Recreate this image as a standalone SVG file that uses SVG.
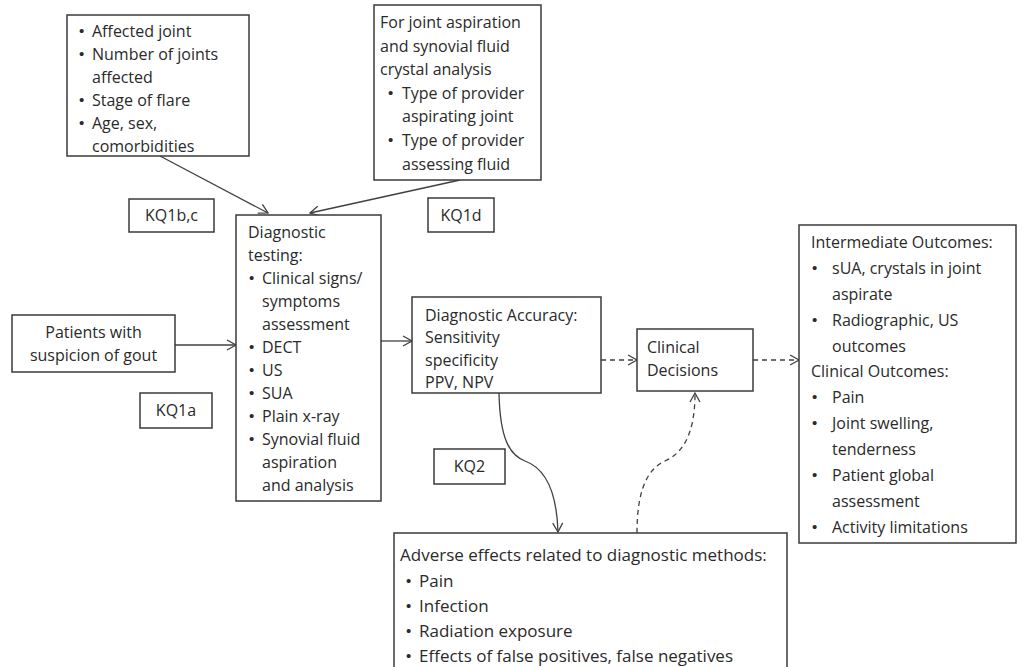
<svg xmlns="http://www.w3.org/2000/svg" width="1026" height="667" viewBox="0 0 1026 667">
<defs>
<marker id="arr" markerUnits="userSpaceOnUse" markerWidth="14" markerHeight="14" refX="10" refY="6" orient="auto">
<path d="M1,1 L10,6 L1,11" fill="none" stroke="#404040" stroke-width="1.3"/>
</marker>
<style>
.box{fill:#fff;stroke:#3a3a3a;stroke-width:1.5}
.t{font-family:"Open Sans","Liberation Sans",sans-serif;font-size:16px;fill:#2a2a2a}
.b{font-family:"Liberation Sans",sans-serif;font-size:15px}
.c{text-anchor:middle}
.ln{fill:none;stroke:#404040;stroke-width:1.3}
.ds{stroke-dasharray:5,4}
</style>
</defs>
<rect width="1026" height="667" fill="#fff"/>

<g id="connectors">
<path class="ln" d="M160,156 L268,213" marker-end="url(#arr)"/>
<path class="ln" d="M460,180 L310,213" marker-end="url(#arr)"/>
<path class="ln" d="M175,345 L236,345" marker-end="url(#arr)"/>
<path class="ln" d="M381,341 L412,341" marker-end="url(#arr)"/>
<path class="ln ds" d="M601,360 L637,360" marker-end="url(#arr)"/>
<path class="ln ds" d="M753,360 L799,360" marker-end="url(#arr)"/>
<path class="ln" d="M499,393 C500,440 510,455 525,461 C550,470 557,500 558,532" marker-end="url(#arr)"/>
<path class="ln ds" d="M637,533 C637,495 645,470 665,461 C690,450 695,420 695,393" marker-end="url(#arr)"/>
</g>

<g id="factors">
<rect class="box" x="67" y="15" width="182" height="141"/>
<g class="t">
<text class="b" x="79" y="36">•</text><text x="92" y="37">Affected joint</text>
<text class="b" x="79" y="59">•</text><text x="92" y="60">Number of joints</text>
<text x="92" y="83">affected</text>
<text class="b" x="79" y="105">•</text><text x="92" y="106">Stage of flare</text>
<text class="b" x="79" y="128">•</text><text x="92" y="129">Age, sex,</text>
<text x="92" y="152">comorbidities</text>
</g>
</g>

<g id="provider">
<rect class="box" x="374" y="5" width="167" height="175"/>
<g class="t">
<text x="380" y="28">For joint aspiration</text>
<text x="380" y="52">and synovial fluid</text>
<text x="380" y="75">crystal analysis</text>
<text class="b" x="388" y="98">•</text><text x="402" y="99">Type of provider</text>
<text x="402" y="122">aspirating joint</text>
<text class="b" x="388" y="145">•</text><text x="402" y="146">Type of provider</text>
<text x="402" y="170">assessing fluid</text>
</g>
</g>

<g id="kq1bc">
<rect class="box" x="129" y="199" width="85" height="33"/>
<text class="t c" x="171.5" y="221">KQ1b,c</text>
</g>

<g id="kq1d">
<rect class="box" x="428" y="198" width="66" height="34"/>
<text class="t c" x="461" y="221">KQ1d</text>
</g>

<g id="patients">
<rect class="box" x="12" y="315" width="163" height="57"/>
<text class="t c" x="93.5" y="338">Patients with</text>
<text class="t c" x="93.5" y="361">suspicion of gout</text>
</g>

<g id="kq1a">
<rect class="box" x="140" y="393" width="72" height="35"/>
<text class="t c" x="176" y="416">KQ1a</text>
</g>

<g id="testing">
<rect class="box" x="236" y="215" width="145" height="286"/>
<g class="t">
<text x="248" y="238">Diagnostic</text>
<text x="248" y="261">testing:</text>
<text class="b" x="249" y="283">•</text><text x="262" y="284">Clinical signs/</text>
<text x="262" y="307">symptoms</text>
<text x="262" y="330">assessment</text>
<text class="b" x="249" y="352">•</text><text x="262" y="353">DECT</text>
<text class="b" x="249" y="375">•</text><text x="262" y="376">US</text>
<text class="b" x="249" y="398">•</text><text x="262" y="399">SUA</text>
<text class="b" x="249" y="421">•</text><text x="262" y="422">Plain x-ray</text>
<text class="b" x="249" y="444">•</text><text x="262" y="445">Synovial fluid</text>
<text x="262" y="468">aspiration</text>
<text x="262" y="491">and analysis</text>
</g>
</g>

<g id="accuracy">
<rect class="box" x="412" y="297" width="189" height="96"/>
<g class="t">
<text x="425" y="321">Diagnostic Accuracy:</text>
<text x="425" y="343">Sensitivity</text>
<text x="425" y="366">specificity</text>
<text x="425" y="388">PPV, NPV</text>
</g>
</g>

<g id="kq2">
<rect class="box" x="434" y="449" width="71" height="35"/>
<text class="t c" x="469.5" y="472">KQ2</text>
</g>

<g id="decisions">
<rect class="box" x="637" y="329" width="116" height="62"/>
<text class="t" x="647" y="353">Clinical</text>
<text class="t" x="647" y="376">Decisions</text>
</g>

<g id="outcomes">
<rect class="box" x="799" y="225" width="217" height="318"/>
<g class="t">
<text x="811" y="248">Intermediate Outcomes:</text>
<text class="b" x="812" y="273">•</text><text x="832" y="274">sUA, crystals in joint</text>
<text x="832" y="300">aspirate</text>
<text class="b" x="812" y="325">•</text><text x="832" y="326">Radiographic, US</text>
<text x="832" y="352">outcomes</text>
<text x="811" y="377">Clinical Outcomes:</text>
<text class="b" x="812" y="402">•</text><text x="832" y="403">Pain</text>
<text class="b" x="812" y="428">•</text><text x="832" y="429">Joint swelling,</text>
<text x="832" y="455">tenderness</text>
<text class="b" x="812" y="480">•</text><text x="832" y="481">Patient global</text>
<text x="832" y="507">assessment</text>
<text class="b" x="812" y="532">•</text><text x="832" y="533">Activity limitations</text>
</g>
</g>

<g id="adverse">
<rect class="box" x="394" y="533" width="393" height="150"/>
<g class="t" style="font-size:17px">
<text x="400" y="561">Adverse effects related to diagnostic methods:</text>
<text class="b" x="406" y="586">•</text><text x="419" y="587">Pain</text>
<text class="b" x="406" y="611">•</text><text x="419" y="612">Infection</text>
<text class="b" x="406" y="636">•</text><text x="419" y="637">Radiation exposure</text>
<text class="b" x="406" y="661">•</text><text x="419" y="662">Effects of false positives, false negatives</text>
</g>
</g>
</svg>
